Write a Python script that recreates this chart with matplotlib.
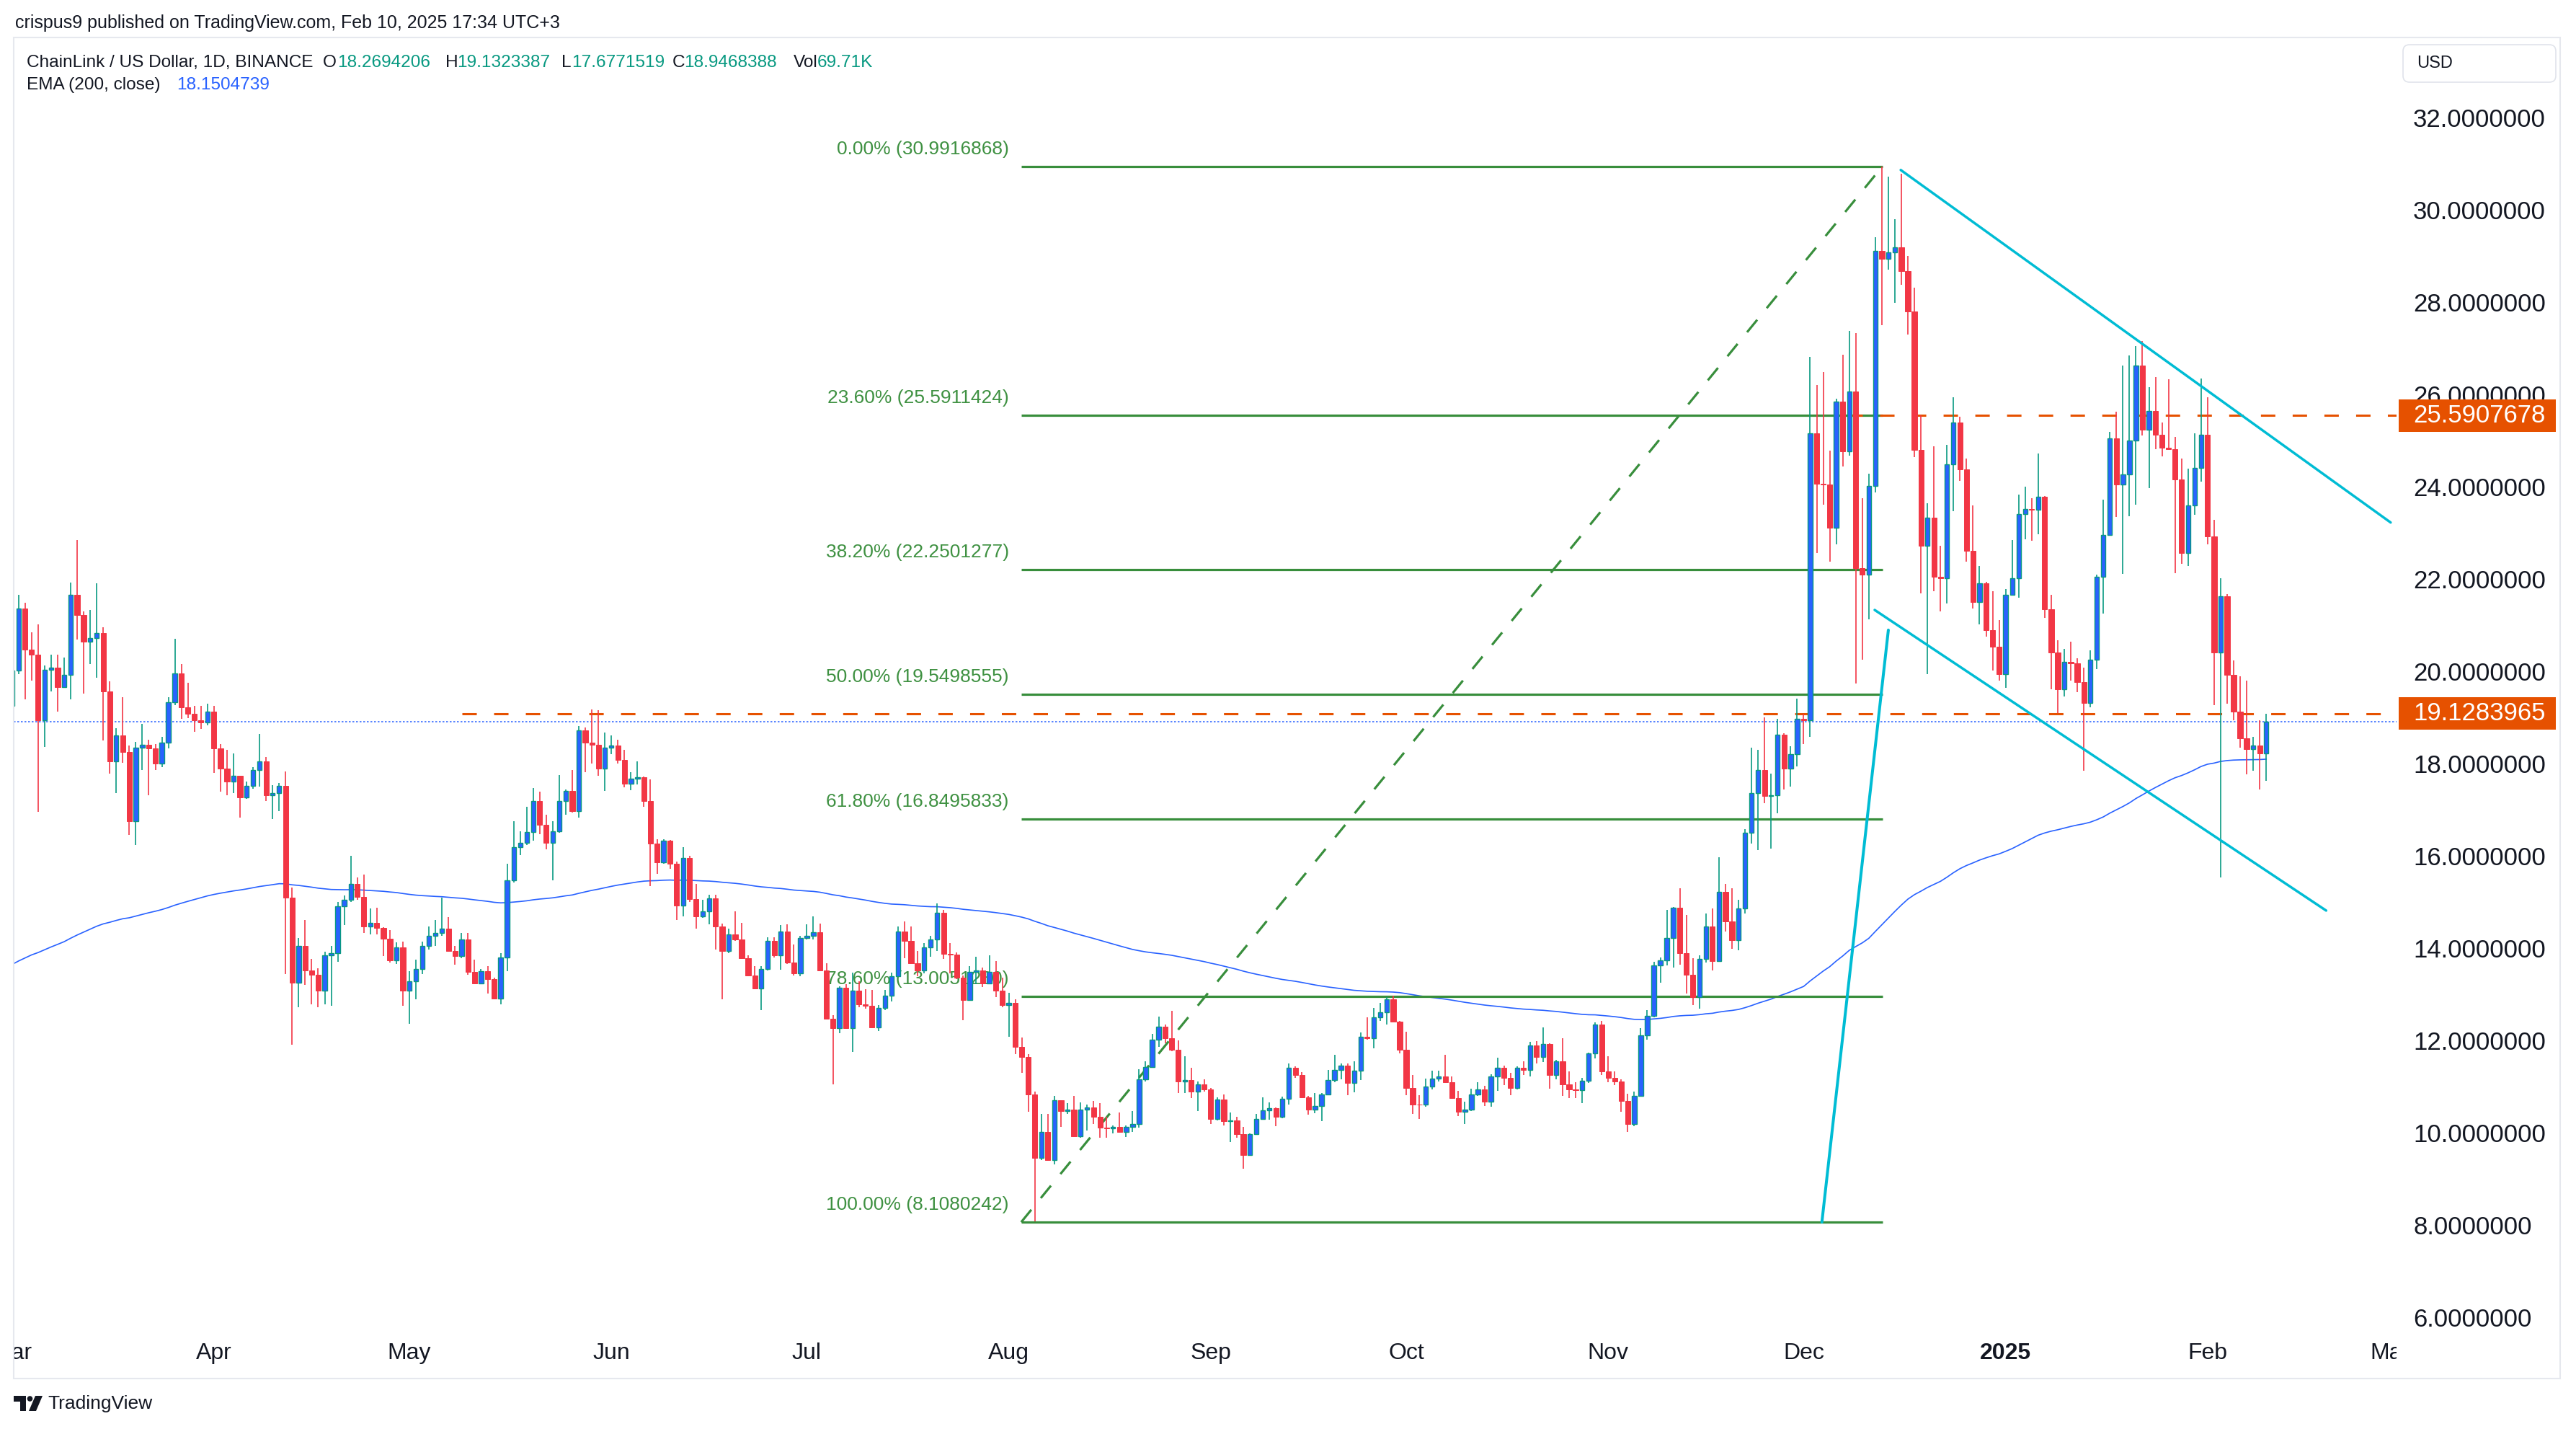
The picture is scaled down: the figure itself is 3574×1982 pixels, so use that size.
import numpy as np
import matplotlib
matplotlib.use("Agg")
import matplotlib.pyplot as plt
from matplotlib.patches import Rectangle, FancyBboxPatch, Polygon, Circle

plt.rcParams['font.family'] = ['Liberation Sans', 'DejaVu Sans']
plt.rcParams['lines.scale_dashes'] = False

# ---------------- data (daily LINK/USD, Binance) ----------------
start_date = "2024-03-01"
first_open = 19.30

closes = [
    # Mar 2024
    20.07, 21.41, 20.51, 20.41, 18.99, 20.08, 20.12, 19.71, 19.97, 21.70,
    21.26, 20.68, 20.76, 20.87, 19.61, 18.10, 18.65, 18.30, 16.80, 18.39,
    18.46, 18.38, 18.05, 18.50, 19.37, 20.00, 19.27, 19.13, 18.98, 18.94, 19.17,
    # Apr
    18.37, 17.93, 17.66, 17.78, 17.32, 17.56, 17.91, 18.09, 17.36, 17.40,
    17.56, 15.14, 13.29, 14.10, 13.57, 13.47, 13.13, 13.89, 13.94, 14.96,
    15.10, 15.44, 15.16, 14.51, 14.59, 14.49, 14.25, 13.78, 14.06, 13.12,
    # May
    13.33, 13.59, 14.09, 14.31, 14.38, 14.47, 13.98, 13.88, 14.23, 13.53,
    13.28, 13.54, 13.37, 12.95, 13.85, 15.51, 16.24, 16.33, 16.57, 17.24,
    16.72, 16.33, 16.58, 17.24, 17.45, 17.01, 18.76, 18.50, 18.45, 17.93, 18.39,
    # Jun
    18.44, 18.13, 17.61, 17.72, 17.75, 17.24, 16.31, 15.91, 16.37, 15.88,
    14.97, 16.00, 15.11, 14.73, 14.84, 15.12, 14.51, 13.98, 14.34, 14.23,
    13.83, 13.46, 13.17, 13.59, 14.20, 13.89, 14.41, 13.73, 13.50, 14.26,
    # Jul
    14.31, 14.39, 13.56, 12.52, 12.31, 13.19, 12.31, 13.12, 12.83, 12.79,
    12.33, 12.75, 13.01, 13.44, 14.40, 14.20, 13.72, 13.57, 14.06, 14.24,
    14.82, 13.92, 13.90, 13.40, 12.92, 13.53, 13.57, 13.28, 13.53, 13.13, 12.82,
    # Aug
    12.86, 11.90, 11.69, 10.87, 9.50, 10.06, 9.45, 10.75, 10.52, 10.55,
    9.97, 10.54, 10.59, 10.39, 10.15, 10.14, 10.17, 10.07, 10.17, 10.23,
    11.21, 11.47, 12.06, 12.34, 12.10, 11.84, 11.15, 11.18, 10.94, 11.10, 10.99,
    # Sep
    10.35, 10.76, 10.30, 10.32, 10.02, 9.56, 10.02, 10.34, 10.53, 10.58,
    10.39, 10.78, 11.45, 11.30, 10.81, 10.55, 10.62, 10.88, 11.18, 11.41,
    11.50, 11.13, 11.39, 12.13, 12.10, 12.55, 12.66, 12.94, 12.46, 11.84,
    # Oct
    11.01, 10.66, 10.65, 11.05, 11.22, 11.27, 11.14, 10.80, 10.50, 10.54,
    10.88, 10.99, 10.72, 11.27, 11.45, 11.23, 11.01, 11.46, 11.40, 11.94,
    11.69, 11.97, 11.29, 11.60, 11.10, 10.98, 10.97, 11.17, 11.76, 12.39, 11.37,
    # Nov
    11.24, 11.16, 10.74, 10.24, 10.84, 12.16, 12.58, 13.67, 13.78, 14.27,
    14.92, 13.93, 13.47, 12.99, 13.82, 14.51, 13.76, 15.26, 14.63, 14.22,
    14.90, 16.55, 17.40, 17.90, 17.34, 17.36, 18.67, 17.94, 18.25, 19.02,
    # Dec
    18.98, 25.21, 24.11, 24.09, 23.15, 25.89, 24.81, 26.11, 22.28, 22.14,
    24.06, 29.16, 28.99, 29.12, 29.24, 28.72, 27.84, 24.85, 22.77, 23.38,
    22.09, 22.07, 24.53, 25.43, 24.42, 22.66, 21.54, 21.96, 20.93, 20.58, 19.98,
    # Jan 2025
    21.71, 22.06, 23.46, 23.57, 23.54, 23.83, 21.39, 20.45, 19.65, 20.25,
    20.22, 19.81, 19.36, 20.30, 22.09, 23.00, 25.10, 24.09, 24.32, 25.04,
    26.67, 25.28, 25.69, 25.17, 24.89, 24.86, 24.21, 22.61, 23.64, 24.45, 25.17,
    # Feb
    22.97, 20.45, 21.67, 19.97, 19.17, 18.59, 18.36, 18.43, 18.2694206, 18.9468388,
]

highs = [
    # Mar 2024
    20.20, 21.70, 21.53, 20.89, 21.06, 20.17, 20.40, 20.40, 20.34, 21.97,
    22.89, 21.34, 21.37, 21.95, 21.00, 19.83, 18.82, 19.49, 18.43, 18.51,
    18.90, 18.57, 18.47, 18.62, 19.49, 20.75, 20.20, 19.79, 19.29, 19.29, 19.34,
    # Apr
    19.29, 18.47, 18.35, 18.26, 17.78, 17.66, 17.97, 18.69, 18.19, 17.58,
    17.62, 17.87, 15.36, 14.26, 14.66, 13.81, 13.61, 13.97, 14.10, 15.04,
    15.18, 16.04, 15.58, 15.64, 14.90, 14.92, 14.50, 14.43, 14.17, 14.18,
    # May
    13.55, 13.79, 14.18, 14.51, 14.65, 15.14, 14.72, 14.10, 14.37, 14.37,
    13.79, 13.59, 13.65, 13.40, 13.93, 15.87, 16.79, 16.58, 17.11, 17.51,
    17.44, 16.93, 16.79, 17.79, 17.48, 17.90, 18.86, 18.83, 19.22, 19.20, 18.72,
    # Jun
    18.65, 18.56, 18.34, 17.86, 18.09, 17.76, 17.70, 16.40, 16.40, 16.39,
    15.92, 16.24, 16.05, 15.43, 15.09, 15.20, 15.20, 14.58, 14.47, 14.84,
    14.59, 13.89, 13.66, 13.65, 14.28, 14.28, 14.55, 14.57, 14.13, 14.32,
    # Jul
    14.56, 14.74, 14.58, 13.72, 12.60, 13.22, 13.27, 13.52, 13.33, 13.15,
    13.14, 12.81, 13.14, 13.51, 14.51, 14.62, 14.51, 13.99, 14.15, 14.32,
    15.01, 14.87, 14.15, 13.95, 13.46, 13.65, 13.86, 13.62, 13.89, 13.77, 13.41,
    # Aug
    13.08, 12.93, 12.11, 11.75, 10.94, 10.46, 10.46, 10.84, 10.75, 10.69,
    10.84, 10.71, 10.66, 10.73, 10.69, 10.39, 10.20, 10.48, 10.20, 10.52,
    11.42, 11.60, 12.19, 12.56, 12.39, 12.69, 12.04, 11.70, 11.45, 11.16, 11.20,
    # Sep
    11.01, 10.82, 10.87, 10.48, 10.39, 10.17, 10.03, 10.45, 10.81, 10.70,
    10.60, 10.83, 11.55, 11.48, 11.36, 10.85, 10.90, 10.90, 11.40, 11.73,
    11.55, 11.54, 11.60, 12.22, 12.54, 12.75, 12.86, 12.99, 13.01, 12.47,
    # Oct
    12.24, 11.29, 10.86, 11.22, 11.39, 11.39, 11.73, 11.26, 10.95, 10.72,
    11.00, 11.14, 11.06, 11.32, 11.67, 11.50, 11.34, 11.48, 11.59, 12.02,
    12.03, 12.33, 11.98, 11.63, 12.09, 11.37, 11.14, 11.24, 11.78, 12.44, 12.47,
    # Nov
    11.71, 11.37, 11.20, 10.89, 10.93, 12.31, 12.70, 13.75, 13.84, 14.87,
    14.93, 15.34, 14.77, 13.83, 13.89, 14.80, 14.90, 16.02, 15.44, 15.34,
    15.10, 16.62, 18.39, 18.34, 19.04, 17.83, 19.02, 18.71, 18.42, 19.46,
    # Dec
    19.13, 26.86, 26.25, 26.53, 24.83, 25.96, 26.91, 27.42, 27.37, 23.79,
    24.33, 29.45, 30.99, 30.77, 29.85, 30.83, 29.05, 28.36, 25.59, 23.68,
    24.92, 22.77, 24.96, 25.98, 25.57, 24.66, 23.64, 22.33, 21.98, 21.78, 21.16,
    # Jan 2025
    21.83, 22.89, 23.88, 24.05, 23.80, 24.76, 23.85, 21.71, 20.72, 20.53,
    20.69, 20.33, 20.12, 20.50, 22.14, 23.77, 25.23, 25.67, 26.67, 26.89,
    27.10, 27.20, 26.20, 26.42, 25.44, 26.37, 25.12, 24.66, 24.44, 25.20, 26.39,
    # Feb
    25.98, 23.33, 22.06, 21.72, 20.28, 19.93, 19.84, 18.62, 18.98, 19.1323387,
]

lows = [
    # Mar 2024
    19.10, 19.99, 19.43, 19.84, 17.00, 18.41, 19.61, 19.17, 19.68, 19.43,
    20.74, 19.57, 20.21, 19.91, 18.54, 17.83, 17.40, 18.06, 16.50, 16.28,
    17.91, 17.36, 17.91, 17.97, 18.38, 19.31, 19.01, 19.03, 18.74, 18.79, 18.87,
    # Apr
    17.85, 17.44, 17.36, 17.40, 16.88, 17.28, 17.50, 17.54, 17.24, 16.84,
    17.01, 13.49, 11.96, 12.77, 13.25, 12.83, 12.77, 12.83, 12.80, 13.75,
    14.55, 15.04, 15.10, 14.37, 14.35, 14.34, 13.87, 13.73, 13.71, 12.80,
    # May
    12.40, 12.93, 13.49, 14.01, 14.10, 14.31, 13.97, 13.69, 13.83, 13.47,
    13.26, 13.27, 13.07, 12.93, 12.83, 13.55, 15.47, 16.06, 16.28, 16.37,
    16.51, 16.18, 15.51, 16.55, 16.93, 16.99, 16.87, 17.86, 18.05, 17.78, 17.45,
    # Jun
    18.25, 18.05, 17.53, 17.47, 17.60, 17.11, 15.39, 15.66, 15.88, 15.76,
    14.65, 14.73, 15.05, 14.47, 14.70, 14.57, 14.01, 12.93, 13.93, 14.20,
    13.81, 13.44, 13.15, 12.71, 13.56, 13.85, 13.58, 13.71, 13.45, 13.44,
    # Jul
    14.23, 14.24, 13.55, 12.51, 11.09, 12.20, 12.29, 11.79, 12.76, 12.73,
    12.32, 12.25, 12.71, 12.89, 13.43, 13.83, 13.71, 13.44, 13.50, 13.86,
    13.98, 13.81, 13.50, 13.37, 12.49, 12.90, 13.27, 13.20, 13.27, 12.98, 12.77,
    # Aug
    12.12, 11.75, 11.35, 10.50, 8.13, 9.45, 9.43, 9.36, 10.17, 10.46,
    9.95, 9.93, 10.10, 10.24, 9.94, 9.94, 10.03, 10.06, 9.95, 10.06,
    10.15, 11.15, 11.45, 11.90, 11.99, 11.82, 10.91, 10.91, 10.79, 10.51, 10.94,
    # Sep
    10.24, 10.32, 10.21, 9.85, 9.93, 9.27, 9.54, 10.01, 10.33, 10.33,
    10.18, 10.36, 10.66, 11.24, 10.79, 10.43, 10.47, 10.29, 10.87, 11.14,
    11.20, 10.86, 10.92, 11.19, 12.07, 11.87, 12.47, 12.39, 12.45, 11.76,
    # Oct
    10.86, 10.45, 10.35, 10.61, 10.99, 11.16, 11.12, 10.78, 10.40, 10.24,
    10.51, 10.84, 10.63, 10.61, 10.95, 11.08, 10.86, 10.99, 11.29, 11.27,
    11.54, 11.58, 11.00, 11.21, 10.84, 10.80, 10.80, 10.69, 11.13, 11.65, 11.30,
    # Nov
    11.14, 11.08, 10.50, 10.07, 10.18, 10.83, 12.07, 12.55, 13.29, 13.67,
    13.62, 13.69, 13.07, 12.81, 12.73, 13.73, 13.56, 13.75, 14.41, 14.03,
    14.00, 14.80, 16.31, 16.17, 17.18, 16.20, 16.97, 17.48, 17.54, 17.98,
    # Dec
    18.47, 18.63, 22.61, 23.65, 22.42, 22.80, 24.48, 24.72, 19.78, 20.30,
    21.17, 23.92, 27.54, 28.75, 28.03, 28.42, 27.35, 24.69, 21.73, 19.98,
    21.78, 21.34, 21.52, 23.51, 24.17, 22.42, 21.40, 21.07, 20.79, 20.06, 19.84,
    # Jan 2025
    19.68, 21.68, 21.64, 22.90, 22.87, 23.02, 21.21, 19.65, 19.14, 19.50,
    19.84, 19.60, 17.89, 19.26, 20.10, 21.29, 22.98, 23.39, 22.16, 23.41,
    23.66, 25.15, 24.01, 24.86, 24.71, 24.85, 22.17, 22.38, 22.33, 23.44, 24.15,
    # Feb
    22.79, 19.32, 15.58, 19.34, 18.98, 18.39, 17.81, 17.89, 17.48, 17.6771519,
]

ema_len = 200
ema_seed = 13.69          # EMA value on the first visible day

fib_levels = [0.0, 0.236, 0.382, 0.5, 0.618, 0.786, 1.0]
fib_high = 30.9916868
fib_low = 8.1080242
fib_labels = ["0.00% (30.9916868)", "23.60% (25.5911424)", "38.20% (22.2501277)",
              "50.00% (19.5498555)", "61.80% (16.8495833)", "78.60% (13.0051280)",
              "100.00% (8.1080242)"]
fib_start_day, fib_end_day = 154.9, 287.1

resistance_level = 25.5907678
support_level = 19.1283965
resistance_start_day, support_start_day = 281.8, 69.1
last_price = 18.9468388

channel_upper = ([289.9, 365.1], [30.91, 23.27])
channel_lower = ([285.9, 355.2], [21.375, 14.86])
steep_line = ([277.8, 288.0], [8.108, 20.94])

price_ticks = [6, 8, 10, 12, 14, 16, 18, 20, 22, 24, 26, 28, 30, 32]
month_ticks = [0, 31, 61, 92, 122, 153, 184, 214, 245, 275, 306, 337, 365]
month_labels = ["Mar", "Apr", "May", "Jun", "Jul", "Aug", "Sep", "Oct", "Nov",
                "Dec", "2025", "Feb", "Mar"]

header_text = "crispus9 published on TradingView.com, Feb 10, 2025 17:34 UTC+3"
symbol_text = "ChainLink / US Dollar, 1D, BINANCE"
ohlc_names = ["O", "H", "L", "C", "Vol"]
ohlc_values = ["18.2694206", "19.1323387", "17.6771519", "18.9468388", "69.71K"]
ema_text = "EMA (200, close)"
ema_value_text = "18.1504739"

# ---------------- colours ----------------
TEAL = '#089981'
BLUE = '#2962ff'
RED = '#f23645'
ORANGE = '#e65100'
FIB = '#388e3c'
FIBTXT = '#3f9142'
CYAN = '#00bcd4'
INK = '#131722'

closes = np.array(closes, float)
highs = np.array(highs, float)
lows = np.array(lows, float)
n = len(closes)
days = np.arange(n)
opens = np.concatenate([[first_open], closes[:-1]])
opens[-1] = 18.2694206

ema = np.empty(n)
ema[0] = ema_seed
alpha = 2.0 / (ema_len + 1)
for i in range(1, n):
    ema[i] = ema[i - 1] + alpha * (closes[i] - ema[i - 1])

# ---------------- figure ----------------
W, H = 3574, 1982
fig = plt.figure(figsize=(W / 100, H / 100), dpi=100)
fig.patch.set_facecolor('white')


def fx(px):
    return px / W


def fy(py):
    return 1 - py / H


X0, X1, Y0, Y1 = 19, 3325, 52, 1845
PPU = 64.0              # pixels per price unit
Y32 = 166               # pixel row of price 32


def p_at(py):
    return 32 - (py - Y32) / PPU


ax = fig.add_axes([fx(X0), fy(Y1), fx(X1) - fx(X0), fy(Y0) - fy(Y1)])
XLIM = (0.26, 366.0)
ax.set_xlim(*XLIM)
ax.set_ylim(p_at(Y1), p_at(Y0))
ax.axis('off')

# EMA and last price
ax.plot(days, ema, color=BLUE, lw=1.2, zorder=2)
ax.axhline(last_price, color=BLUE, lw=1.1, dashes=(1.8, 1.8), zorder=2)

# fibonacci
rng = fib_high - fib_low
for lvl, lab in zip(fib_levels, fib_labels):
    v = fib_high - lvl * rng
    ax.plot([fib_start_day, fib_end_day], [v, v], color=FIB, lw=2.3, zorder=3,
            solid_capstyle='butt')
    ax.annotate(lab, xy=(fib_start_day, v), xytext=(-17, 24), textcoords='offset pixels',
                ha='right', va='center', fontsize=19, color=FIBTXT, zorder=3)
ax.plot([fib_start_day, fib_end_day], [fib_low, fib_high], color=FIB, lw=2.3,
        dashes=(16, 15), zorder=3)

# orange horizontal levels
ax.plot([resistance_start_day, XLIM[1]], [resistance_level] * 2, color=ORANGE, lw=2.2,
        dashes=(14.4, 17.3), zorder=4)
ax.plot([support_start_day, XLIM[1]], [support_level] * 2, color=ORANGE, lw=2.2,
        dashes=(14.4, 17.3), zorder=4)

# candles
up = closes >= opens
ax.vlines(days[up], lows[up], highs[up], color=TEAL, lw=1.2, zorder=5)
ax.vlines(days[~up], lows[~up], highs[~up], color=RED, lw=1.2, zorder=5)
ax.bar(days[up], (closes - opens)[up], bottom=opens[up], width=0.70, color=BLUE,
       edgecolor=TEAL, linewidth=1.0, zorder=6)
ax.bar(days[~up], (opens - closes)[~up], bottom=closes[~up], width=0.80, color=RED,
       edgecolor=RED, linewidth=0.7, zorder=6)

# cyan trend lines
ax.plot(*channel_upper, color=CYAN, lw=2.5, zorder=7, solid_capstyle='round')
ax.plot(*channel_lower, color=CYAN, lw=2.5, zorder=7, solid_capstyle='round')
ax.plot(*steep_line, color=CYAN, lw=2.9, zorder=7, solid_capstyle='round')

# ---------------- time axis ----------------
tax = fig.add_axes([fx(X0), fy(1912), fx(X1) - fx(X0), fy(Y1) - fy(1912)])
tax.set_xlim(*XLIM)
tax.set_ylim(0, 1)
tax.axis('off')
for d, lab in zip(month_ticks, month_labels):
    tax.text(d, 0.52, lab, ha='center', va='center', fontsize=23, color=INK,
             fontweight='bold' if lab == '2025' else 'normal', clip_on=True)

# ---------------- price axis ----------------
PX0, PX1, PYB = 3325, 3552, 1855
pax = fig.add_axes([fx(PX0), fy(PYB), fx(PX1) - fx(PX0), fy(Y0) - fy(PYB)])
pax.set_xlim(0, 1)
pax.set_ylim(p_at(PYB), p_at(Y0))
pax.axis('off')
lx = (3348 - PX0) / (PX1 - PX0)
for v in price_ticks:
    pax.text(lx, v, f"{v:.7f}", ha='left', va='center', fontsize=25, color=INK,
             clip_on=True)
bx0 = (3328 - PX0) / (PX1 - PX0)
bx1 = (3546 - PX0) / (PX1 - PX0)
bh = 45 / PPU
for v in (resistance_level, support_level):
    pax.add_patch(Rectangle((bx0, v - bh / 2), bx1 - bx0, bh, facecolor=ORANGE,
                            edgecolor='none', zorder=5))
    pax.text(lx, v, f"{v:.7f}", ha='left', va='center', fontsize=25, color='white',
             zorder=6)

# USD box
fig.add_artist(FancyBboxPatch((3334, H - 114), 212, 52,
                              boxstyle='round,pad=0,rounding_size=9',
                              transform=None, facecolor='white',
                              edgecolor='#e0e3eb', lw=1.2))
fig.text(fx(3353), fy(88), "USD", ha='left', va='center', fontsize=17, color=INK)

# outer frame
fig.add_artist(Rectangle((19, H - 1912), 3552 - 19, 1912 - 52, transform=None,
                         fill=False, edgecolor='#e6e8ee', lw=1.5))

# ---------------- header texts ----------------
fig.text(fx(21), fy(32), header_text, ha='left', va='center', fontsize=18, color=INK)
fig.text(fx(37), fy(87), symbol_text, ha='left', va='center', fontsize=17.6, color=INK)
name_x = [448, 618, 779, 933, 1101]
val_x = [468, 634, 793, 949, 1134]
for nm, vl, nx, vx in zip(ohlc_names, ohlc_values, name_x, val_x):
    fig.text(fx(nx), fy(87), nm, ha='left', va='center', fontsize=17.6, color=INK)
    fig.text(fx(vx), fy(87), vl, ha='left', va='center', fontsize=17.6, color=TEAL)
fig.text(fx(37), fy(118), ema_text, ha='left', va='center', fontsize=17.6, color=INK)
fig.text(fx(245), fy(118), ema_value_text, ha='left', va='center', fontsize=17.6,
         color=BLUE)

# ---------------- TradingView logo ----------------
fig.add_artist(Polygon([(19, H - 1936), (36, H - 1936), (36, H - 1957), (28, H - 1957),
                        (28, H - 1944), (19, H - 1944)], closed=True, transform=None,
                       facecolor=INK, edgecolor='none'))
fig.add_artist(Circle((41.5, H - 1940), 3.8, transform=None, facecolor=INK,
                      edgecolor='none'))
fig.add_artist(Polygon([(49, H - 1936), (59, H - 1936), (50, H - 1957), (40, H - 1957)],
                       closed=True, transform=None, facecolor=INK, edgecolor='none'))
fig.text(fx(66), fy(1947), "TradingView", ha='left', va='center', fontsize=19, color=INK)

fig.savefig("out.png", dpi=100, facecolor='white')
print("EMA last:", ema[-1])
